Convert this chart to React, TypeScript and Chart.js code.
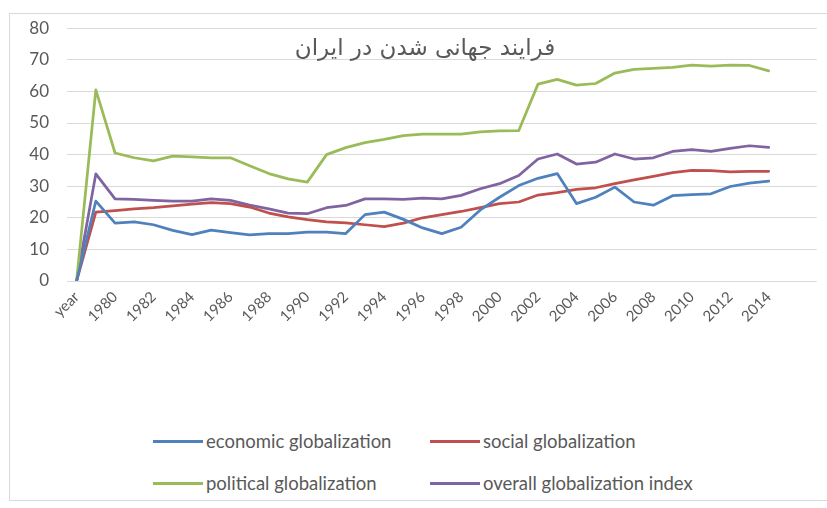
import React, { useEffect, useRef } from "react";
import { Chart, registerables } from "chart.js";

Chart.register(...registerables);

const categories = [
  "year", "1979", "1980", "1981", "1982", "1983", "1984", "1985", "1986", "1987",
  "1988", "1989", "1990", "1991", "1992", "1993", "1994", "1995", "1996", "1997",
  "1998", "1999", "2000", "2001", "2002", "2003", "2004", "2005", "2006", "2007",
  "2008", "2009", "2010", "2011", "2012", "2013", "2014",
];
// two blank category slots after 2014 (empty cells in the source sheet)
const trailingSlots = ["", ""];

const economic = [
  0, 25.3, 18.3, 18.7, 17.8, 16, 14.7, 16.1, 15.3, 14.6,
  15, 15, 15.5, 15.5, 15, 21, 21.8, 19.5, 16.8, 15,
  17, 22.5, 26.5, 30.2, 32.5, 34, 24.5, 26.5, 29.7, 25,
  24, 27, 27.3, 27.6, 29.9, 31, 31.6,
];
const social = [
  0, 21.8, 22.3, 22.8, 23.2, 23.8, 24.3, 24.8, 24.5, 23.4,
  21.5, 20.3, 19.4, 18.7, 18.4, 17.8, 17.2, 18.3, 20, 21,
  22, 23.2, 24.5, 25, 27.2, 28, 29, 29.5, 30.8, 32,
  33.1, 34.3, 35, 34.9, 34.5, 34.7, 34.7,
];
const political = [
  0, 60.5, 40.5, 39, 38, 39.5, 39.3, 39, 39, 36.5,
  34, 32.3, 31.3, 40, 42.2, 43.8, 44.8, 46, 46.5, 46.5,
  46.5, 47.2, 47.5, 47.6, 62.3, 63.8, 62, 62.5, 65.8, 67,
  67.3, 67.6, 68.3, 68, 68.3, 68.2, 66.5,
];
const overall = [
  0, 33.9, 26, 25.8, 25.5, 25.3, 25.3, 26, 25.5, 24,
  22.8, 21.5, 21.3, 23.2, 23.9, 26, 26, 25.8, 26.2, 26,
  27.1, 29.2, 30.8, 33.4, 38.6, 40.2, 37, 37.6, 40.2, 38.6,
  39, 41, 41.6, 41, 42, 42.8, 42.3,
];

const yMin = 0;
const yMax = 80;
const yStep = 10;

const chartTitle = "فرایند جهانی شدن در ایران";
const seriesNames = [
  "economic globalization",
  "social globalization",
  "political globalization",
  "overall globalization index",
];
const seriesColors = ["#4F81BD", "#C0504D", "#9BBB59", "#8064A2"];
const seriesValues = [economic, social, political, overall];

const textColor = "#595959";
const gridColor = "#d9d9d9";
const fontFamily = "Lato, 'Open Sans', 'DejaVu Sans', sans-serif";

export default function App() {
  const canvasRef = useRef<HTMLCanvasElement | null>(null);

  useEffect(() => {
    if (!canvasRef.current) return;
    const chart = new Chart(canvasRef.current, {
      type: "line",
      data: {
        labels: [...categories, ...trailingSlots],
        datasets: seriesNames.map((name, i) => ({
          label: name,
          data: seriesValues[i],
          borderColor: seriesColors[i],
          backgroundColor: seriesColors[i],
          borderWidth: 2.75,
          pointRadius: 0,
          pointHoverRadius: 0,
          tension: 0,
          fill: false,
          borderJoinStyle: "round" as const,
          borderCapStyle: "round" as const,
        })),
      },
      options: {
        animation: false,
        responsive: false,
        devicePixelRatio: 1,
        layout: { padding: { left: 9, right: 10, top: 27, bottom: 19 } },
        plugins: {
          legend: { display: false },
          title: { display: false },
          tooltip: { enabled: false },
        },
        scales: {
          x: {
            type: "category",
            offset: true,
            grid: { display: false, drawTicks: false },
            border: { display: false },
            afterFit: (scale: any) => {
              scale.height = 60;
            },
            ticks: {
              autoSkip: false,
              maxRotation: 45,
              minRotation: 45,
              padding: 7,
              color: textColor,
              font: { family: fontFamily, size: 15 },
              callback: function (this: any, value: any, index: number) {
                return index % 2 === 0 ? this.getLabelForValue(value) : "";
              },
            },
          },
          y: {
            min: yMin,
            max: yMax,
            afterFit: (scale: any) => {
              scale.width = 58;
            },
            grid: { color: gridColor, lineWidth: 1, drawTicks: false },
            border: { display: false },
            ticks: {
              stepSize: yStep,
              padding: 18,
              color: textColor,
              font: { family: fontFamily, size: 17 },
            },
          },
        },
      },
    });
    return () => chart.destroy();
  }, []);

  return (
    <div
      style={{
        position: "fixed",
        left: 0,
        top: 0,
        width: 827,
        height: 508,
        background: "#ffffff",
        overflow: "hidden",
      }}
    >
      <div
        style={{
          position: "absolute",
          left: 9,
          top: 13,
          width: 840,
          height: 488,
          border: `1px solid ${gridColor}`,
          boxSizing: "border-box",
        }}
      />
      <canvas
        ref={canvasRef}
        width={827}
        height={360}
        style={{ position: "absolute", left: 0, top: 0, width: 827, height: 360 }}
      />
      <div
        dir="rtl"
        style={{
          position: "absolute",
          left: 425,
          top: 33,
          transform: "translateX(-50%)",
          whiteSpace: "nowrap",
          fontFamily: "'DejaVu Sans', sans-serif",
          fontSize: 23,
          lineHeight: "28px",
          color: textColor,
        }}
      >
        {chartTitle}
      </div>
      {seriesNames.map((name, i) => {
        const col = i % 2;
        const row = Math.floor(i / 2);
        return (
          <div
            key={name}
            style={{
              position: "absolute",
              left: col === 0 ? 153 : 430,
              top: row === 0 ? 430 : 472,
              height: 22,
              display: "flex",
              alignItems: "center",
              whiteSpace: "nowrap",
              fontFamily,
              fontSize: 18.5,
              color: textColor,
            }}
          >
            <span
              style={{
                display: "inline-block",
                width: 50,
                height: 3,
                background: seriesColors[i],
                marginRight: 3,
              }}
            />
            <span>{name}</span>
          </div>
        );
      })}
    </div>
  );
}
